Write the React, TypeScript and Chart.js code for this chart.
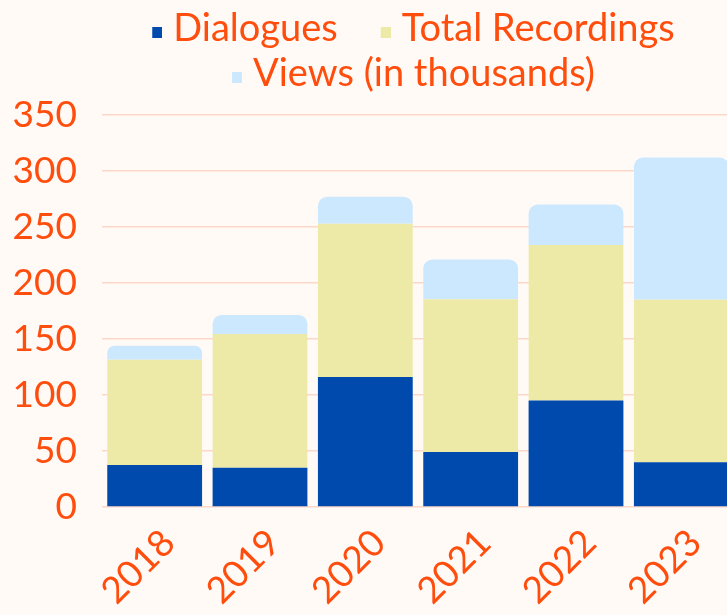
import React, { useEffect, useRef } from "react";
import { Chart, registerables } from "chart.js";

Chart.register(...registerables);

const years = ["2018", "2019", "2020", "2021", "2022", "2023"];
const dialogues = [37.5, 35, 116, 49, 95, 40];
const totalRecordings = [94, 119.5, 137, 136.5, 139, 145];
const views = [12.5, 17, 24, 35.5, 36, 127];
const yTicks = [0, 50, 100, 150, 200, 250, 300, 350];
const seriesNames = ["Dialogues", "Total Recordings", "Views (in thousands)"];
const seriesColors = ["#004AAD", "#EDEAA8", "#CCE8FF"];

const TEXT = "#FF4D0D";
const BG = "#FFFAF6";
const GRID = "#FBD8C8";
const FONT = "Lato";
const LEGEND_FONT = 38;
const LEGEND_PAD = 7;
const SWATCH_W = 38;

function makeSwatch(color: string): HTMLCanvasElement {
  const c = document.createElement("canvas");
  c.width = SWATCH_W + 16;
  c.height = 20;
  const g = c.getContext("2d")!;
  g.fillStyle = color;
  g.fillRect(c.width - 10, 8, 10, 11);
  return c;
}

export default function App() {
  const ref = useRef<HTMLCanvasElement | null>(null);

  useEffect(() => {
    if (!ref.current) return;
    const swatches = seriesColors.map(makeSwatch);
    const legendShift = {
      id: "legendShift",
      afterLayout(chart: any) {
        if (chart.legend) {
          chart.legend.left = 57;
          chart.legend.top = 3;
        }
      },
    };
    const chart = new Chart(ref.current, {
      type: "bar",
      data: {
        labels: years,
        datasets: [
          {
            label: seriesNames[0],
            data: dialogues,
            backgroundColor: seriesColors[0],
            barPercentage: 0.9,
            categoryPercentage: 1,
          },
          {
            label: seriesNames[1],
            data: totalRecordings,
            backgroundColor: seriesColors[1],
            barPercentage: 0.9,
            categoryPercentage: 1,
          },
          {
            label: seriesNames[2],
            data: views,
            backgroundColor: seriesColors[2],
            barPercentage: 0.9,
            categoryPercentage: 1,
            borderRadius: { topLeft: 9, topRight: 9, bottomLeft: 0, bottomRight: 0 },
            borderSkipped: false,
          },
        ],
      },
      plugins: [legendShift],
      options: {
        responsive: false,
        animation: false,
        layout: { padding: { top: 0, left: 0, right: 0, bottom: 0 } },
        plugins: {
          tooltip: { enabled: false },
          legend: {
            position: "top",
            align: "center",
            labels: {
              color: TEXT,
              font: { family: FONT, size: LEGEND_FONT },
              usePointStyle: true,
              pointStyleWidth: SWATCH_W,
              boxHeight: 12,
              padding: LEGEND_PAD,
              generateLabels: (c: any) => {
                const items = (Chart.defaults.plugins.legend.labels as any).generateLabels(c);
                items.forEach((it: any, i: number) => {
                  it.pointStyle = swatches[i];
                });
                return items;
              },
            },
          },
        },
        scales: {
          x: {
            stacked: true,
            grid: { display: false },
            border: { display: false },
            ticks: {
              color: TEXT,
              font: { family: FONT, size: 37 },
              minRotation: 45,
              maxRotation: 45,
              padding: 6,
              labelOffset: 14,
            },
            afterFit: (s: any) => {
              s.height = 108;
            },
          },
          y: {
            stacked: true,
            min: 0,
            max: 363.4,
            grid: { color: GRID, lineWidth: 1.5, drawTicks: false },
            border: { display: false },
            ticks: {
              stepSize: 50,
              color: TEXT,
              font: { family: FONT, size: 37 },
              padding: 25,
            },
            afterBuildTicks: (s: any) => {
              s.ticks = yTicks.map((v) => ({ value: v }));
            },
            afterFit: (s: any) => {
              s.width = 102;
            },
          },
        },
      },
    });
    return () => chart.destroy();
  }, []);

  return (
    <div
      style={{
        position: "fixed",
        left: 0,
        top: 0,
        width: 727,
        height: 615,
        overflow: "hidden",
        background: BG,
      }}
    >
      <canvas ref={ref} width={734} height={615} style={{ display: "block" }} />
    </div>
  );
}
